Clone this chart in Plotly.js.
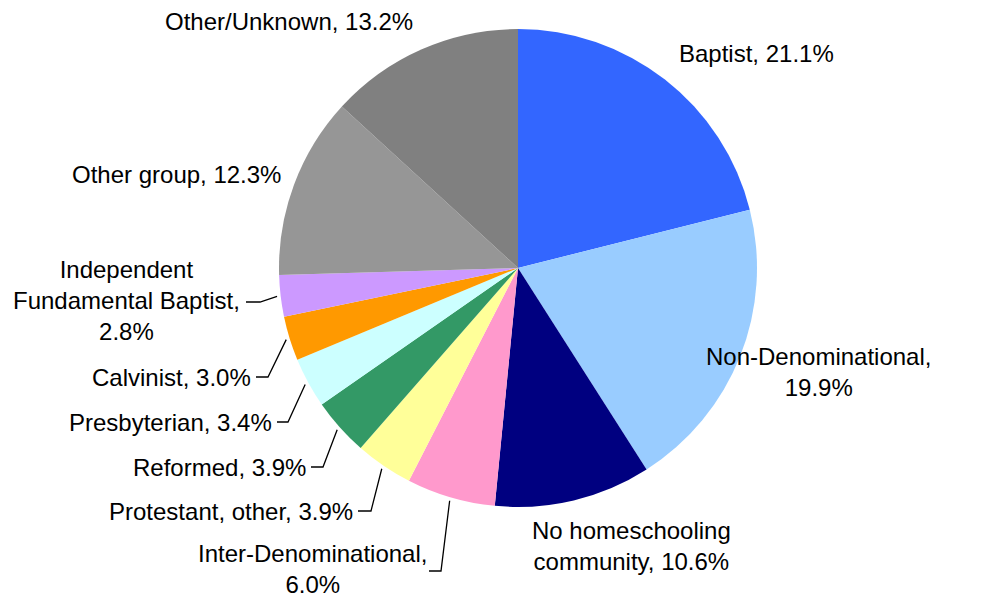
<!DOCTYPE html>
<html>
<head>
<meta charset="utf-8">
<script src="https://cdn.plot.ly/plotly-3.0.1.min.js"></script>
<style>html,body{margin:0;padding:0;background:#fff;}#chart{width:989px;height:597px;}</style>
</head>
<body>
<div id="chart"></div>
<script>
// ---- data ----
const categories = ["Baptist", "Non-Denominational", "No homeschooling community", "Inter-Denominational",
  "Protestant, other", "Reformed", "Presbyterian", "Calvinist", "Independent Fundamental Baptist",
  "Other group", "Other/Unknown"];
const values = [21.1, 19.9, 10.6, 6.0, 3.9, 3.9, 3.4, 3.0, 2.8, 12.3, 13.2];
const colors = ["#3366FF", "#99CCFF", "#000080", "#FF99CC", "#FFFF99", "#339966", "#CCFFFF",
  "#FF9900", "#CC99FF", "#969696", "#808080"];
// how each label is broken into lines (display only)
const labelTexts = ["Baptist, 21.1%", "Non-Denominational,<br>19.9%", "No homeschooling<br>community, 10.6%",
  "Inter-Denominational,<br>6.0%", "Protestant, other, 3.9%", "Reformed, 3.9%", "Presbyterian, 3.4%",
  "Calvinist, 3.0%", "Independent<br>Fundamental Baptist,<br>2.8%", "Other group, 12.3%", "Other/Unknown, 13.2%"];

// ---- layout (pixel positions of label boxes, leader elbows) ----
const W = 989, H = 597;
const CX = 518, CY = 268, R = 239;
const labelPos = [
  {x: 756, y: 54, xa: "center"},
  {x: 818, y: 372, xa: "center"},
  {x: 631, y: 546, xa: "center"},
  {x: 312, y: 569, xa: "center", elbow: [441, 571], end: [429, 571]},
  {x: 355, y: 511, xa: "right", elbow: [371, 511], end: [358, 511]},
  {x: 308, y: 467, xa: "right", elbow: [323, 467], end: [311, 467]},
  {x: 274, y: 422, xa: "right", elbow: [288, 422], end: [277, 422]},
  {x: 253, y: 377, xa: "right", elbow: [268, 377], end: [256, 377]},
  {x: 126, y: 300, xa: "center", elbow: [260, 302], end: [246, 302]},
  {x: 176, y: 175, xa: "center"},
  {x: 289, y: 22, xa: "center"}
];
const px = x => x / W;
const py = y => 1 - y / H;

const total = values.reduce((a, b) => a + b, 0);
let cum = 0;
const annotations = [];
const shapes = [];
values.forEach((v, i) => {
  const mid = (cum + v / 2) / total * 2 * Math.PI;
  cum += v;
  const p = labelPos[i];
  annotations.push({
    text: labelTexts[i], xref: "paper", yref: "paper", x: px(p.x), y: py(p.y),
    xanchor: p.xa, yanchor: "middle", showarrow: false, align: "center",
    font: {family: "Liberation Sans, Arial, sans-serif", size: 24, color: "#000"}
  });
  if (p.elbow) {
    const sx = CX + R * 1.015 * Math.sin(mid);
    const sy = CY - R * 1.015 * Math.cos(mid);
    shapes.push({
      type: "path", xref: "paper", yref: "paper",
      path: `M ${px(sx)} ${py(sy)} L ${px(p.elbow[0])} ${py(p.elbow[1])} L ${px(p.end[0])} ${py(p.end[1])}`,
      line: {color: "#000", width: 1.3}
    });
  }
});

const trace = {
  type: "pie", labels: categories, values: values, sort: false, direction: "clockwise", rotation: 0,
  marker: {colors: colors, line: {width: 0}}, textinfo: "none", hoverinfo: "label+percent",
  domain: {x: [px(CX - R), px(CX + R)], y: [py(CY + R), py(CY - R)]}, showlegend: false
};

Plotly.newPlot("chart", [trace], {
  width: W, height: H, margin: {l: 0, r: 0, t: 0, b: 0},
  paper_bgcolor: "#fff", plot_bgcolor: "#fff", showlegend: false,
  annotations: annotations, shapes: shapes
}, {displayModeBar: false, staticPlot: true});
</script>
</body>
</html>
